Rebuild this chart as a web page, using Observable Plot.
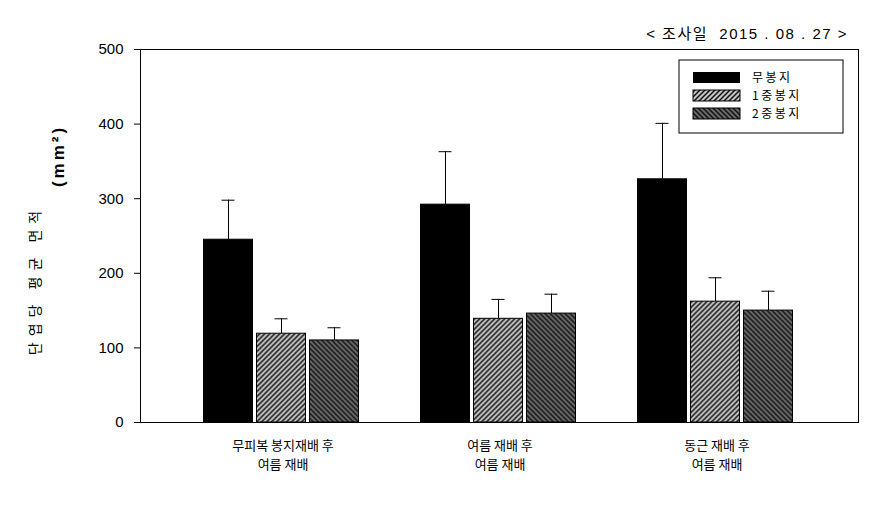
<!DOCTYPE html>
<html><head><meta charset="utf-8">
<script src="https://cdn.jsdelivr.net/npm/d3@7"></script>
<script src="https://cdn.jsdelivr.net/npm/@observablehq/plot@0.6"></script>
<style>
body{margin:0;background:#fff;}
#chart{width:880px;height:507px;}
#chart svg{font-family:"Liberation Sans",Arial,sans-serif;}
</style>
</head><body><div id="chart"></div>
<script>
// ---- data ----
const categories = ["무피복 봉지재배 후\n여름 재배", "여름 재배 후\n여름 재배", "동근 재배 후\n여름 재배"];
const series = ["무봉지", "1중봉지", "2중봉지"];
const meanNoBag = [245, 292, 326];
const meanBag1 = [119, 139, 162];
const meanBag2 = [110, 146, 150];
const errNoBag = [53, 71, 75];
const errBag1 = [20, 26, 32];
const errBag2 = [17, 26, 26];
const yTicks = [0, 100, 200, 300, 400, 500];
const yLabel = "단엽당 평균 면적";
const yUnit = "(mm²)";
const dateLabel = "< 조사일  2015 . 08 . 27 >";

const means = [meanNoBag, meanBag1, meanBag2];
const errs = [errNoBag, errBag1, errBag2];
const fills = ["black", "url(#hatchL)", "url(#hatchD)"];
const rows = series.map((s, j) => categories.map((c, i) => ({cat: c, series: s, j, mean: means[j][i], err: errs[j][i]})));

const marks = [];
rows.forEach((data, j) => {
  const dx = (j - 1) * 53 - 1.5;
  marks.push(
    Plot.ruleX(data, {x: "cat", y1: "mean", y2: d => d.mean + d.err, dx, stroke: "black", strokeWidth: 1}),
    Plot.tickY(data, {x: "cat", y: d => d.mean + d.err, dx, insetLeft: 102, insetRight: 102, stroke: "black", strokeWidth: 1}),
    Plot.barY(data, {x: "cat", y: "mean", dx, fill: fills[j], stroke: "black", strokeWidth: 1, insetLeft: 84, insetRight: 84})
  );
});

const chart = Plot.plot({
  width: 880, height: 507,
  marginLeft: 140, marginRight: 22, marginTop: 49, marginBottom: 85,
  x: {domain: categories, paddingInner: 0, paddingOuter: 0.154},
  y: {domain: [0, 500]},
  marks: [
    ...marks,
    Plot.frame({stroke: "black", strokeWidth: 1}),
    Plot.axisY({ticks: yTicks, tickSize: 6, tickPadding: 11, fontSize: 15, label: null, stroke: "black", color: "black", letterSpacing: 1}),
    Plot.axisX({tickSize: 0, tickPadding: 18, fontSize: 13, label: null, tickFormat: d => d.split("\n")[0],
      fontFamily: "Noto Sans CJK KR", color: "black", letterSpacing: 2.5}),
    Plot.axisX({tickSize: 0, tickPadding: 37, fontSize: 13, label: null, tickFormat: d => d.split("\n")[1],
      fontFamily: "Noto Sans CJK KR", color: "black", letterSpacing: 2.5})
  ]
});
document.getElementById("chart").appendChild(chart);

// patterns
const svg = d3.select(chart);
const defs = svg.insert("defs", ":first-child");
const pL = defs.append("pattern").attr("id", "hatchL").attr("patternUnits", "userSpaceOnUse").attr("width", 5).attr("height", 5);
pL.append("rect").attr("width", 5).attr("height", 5).attr("fill", "#c4c4c4");
pL.append("path").attr("d", "M-1,1 l2,-2 M0,5 l5,-5 M4,6 l2,-2").attr("stroke", "#111").attr("stroke-width", 1.5);
const pD = defs.append("pattern").attr("id", "hatchD").attr("patternUnits", "userSpaceOnUse").attr("width", 5).attr("height", 5);
pD.append("rect").attr("width", 5).attr("height", 5).attr("fill", "#6a6a6a");
pD.append("path").attr("d", "M-1,4 l2,2 M0,0 l5,5 M4,-1 l2,2").attr("stroke", "#111").attr("stroke-width", 1.5);

// top date label
svg.append("text").attr("x", 848).attr("y", 39).attr("text-anchor", "end")
  .attr("font-size", 15).attr("letter-spacing", 1.5).attr("font-family", "Liberation Sans, Noto Sans CJK KR, sans-serif")
  .attr("fill", "black").text(dateLabel);

// y labels
svg.append("text").attr("transform", "translate(40,280) rotate(-90)").attr("text-anchor", "middle")
  .attr("font-size", 14).attr("font-family", "Noto Sans CJK KR").attr("letter-spacing", 6).attr("fill", "black").text(yLabel);
svg.append("text").attr("transform", "translate(64,156) rotate(-90)").attr("text-anchor", "middle")
  .attr("font-size", 17).attr("font-weight", "bold").attr("letter-spacing", 3).attr("font-family", "Liberation Sans, sans-serif")
  .attr("fill", "black").text(yUnit);

// legend
const lg = svg.append("g");
lg.append("rect").attr("x", 679).attr("y", 60).attr("width", 164).attr("height", 73).attr("fill", "white").attr("stroke", "black");
series.forEach((s, j) => {
  const y = 72 + j * 18;
  lg.append("rect").attr("x", 693).attr("y", y).attr("width", 47).attr("height", 11).attr("fill", fills[j]).attr("stroke", "black").attr("stroke-width", j === 0 ? 0 : 1);
  lg.append("text").attr("x", 752).attr("y", y + 10).attr("text-anchor", "start").attr("font-size", 12).attr("letter-spacing", 2.5)
    .attr("font-family", "Noto Sans CJK KR").attr("fill", "black").text(s);
});
</script>
</body></html>
